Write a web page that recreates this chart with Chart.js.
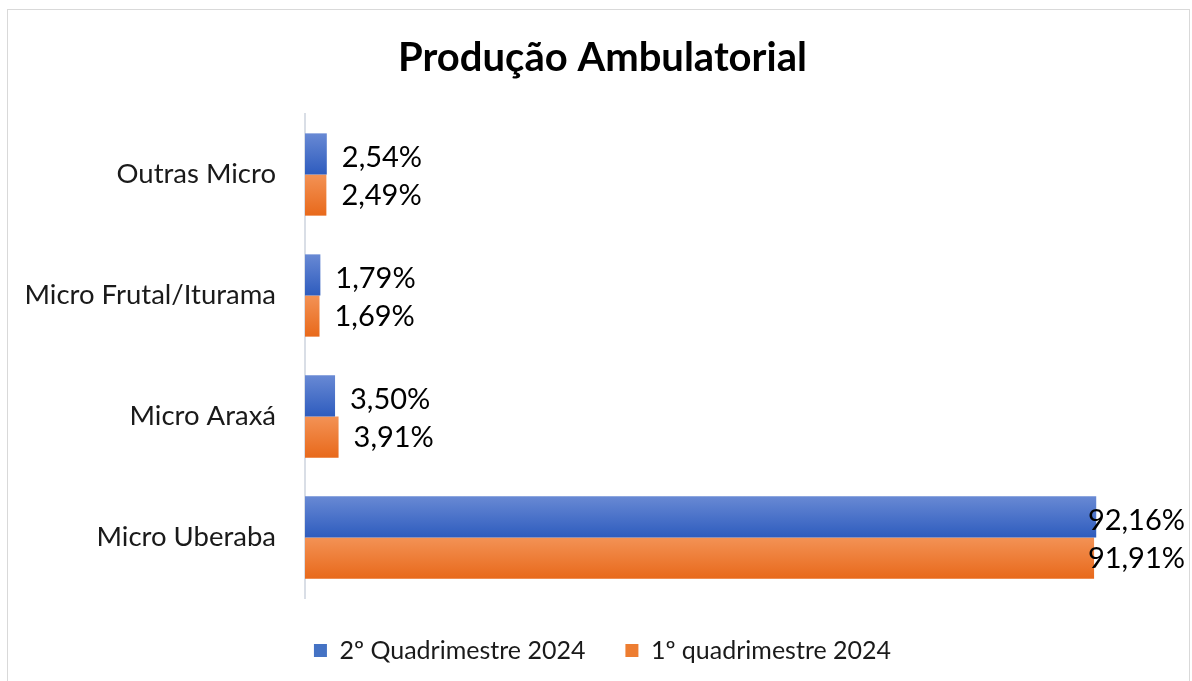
<!DOCTYPE html>
<html>
<head>
<meta charset="utf-8">
<script src="https://cdn.jsdelivr.net/npm/chart.js@4.4.1/dist/chart.umd.min.js"></script>
<style>
  html, body { margin: 0; padding: 0; background: #fff; }
  #wrap { position: relative; width: 1192px; height: 681px; overflow: hidden; }
  #frame { position: absolute; left: 7px; top: 9px; width: 1183px; height: 700px;
           border: 1px solid #d9d9d9; box-sizing: border-box; }
  #myBar { position: absolute; left: 0; top: 0; }
</style>
</head>
<body>
<div id="wrap">
  <div id="frame"></div>
  <canvas id="myBar" width="1192" height="681"></canvas>
</div>
<script>
// dados
var categorias = ["Outras Micro", "Micro Frutal/Iturama", "Micro Araxá", "Micro Uberaba"];
var segundoQuad = [2.54, 1.79, 3.50, 92.16];
var primeiroQuad = [2.49, 1.69, 3.91, 91.91];
var series = ["2º Quadrimestre 2024", "1º quadrimestre 2024"];

var fonte = "Lato, 'Open Sans', sans-serif";
var gradientes = [
    ["#6889d4", "#2e5cbe"],
    ["#f39255", "#e8691b"]
];

// degrade em cada barra
const gradPlugin = {
    id: "gradPlugin",
    beforeDatasetsDraw(chart){
        const ctx = chart.ctx;
        chart.data.datasets.forEach((ds, i) => {
            const meta = chart.getDatasetMeta(i);
            meta.data.forEach(el => {
                const top = el.y - el.height/2;
                const bottom = el.y + el.height/2;
                const g = ctx.createLinearGradient(0, top, 0, bottom);
                g.addColorStop(0, gradientes[i][0]);
                g.addColorStop(1, gradientes[i][1]);
                el.options = Object.assign({}, el.options, {backgroundColor: g});
            });
        });
    }
};

// rotulos de valor
const rotuloPlugin = {
    id: "rotuloPlugin",
    afterDatasetsDraw(chart){
        const ctx = chart.ctx;
        ctx.save();
        ctx.font = "29px " + fonte;
        ctx.fillStyle = "#000";
        ctx.textBaseline = "middle";
        ctx.textAlign = "left";
        chart.data.datasets.forEach((ds, i) => {
            const meta = chart.getDatasetMeta(i);
            meta.data.forEach((el, j) => {
                const txt = ds.data[j].toFixed(2).replace(".", ",") + "%";
                const w = ctx.measureText(txt).width;
                let x = el.x + 15;
                if (x + w > chart.width - 7) x = chart.width - 7 - w;
                ctx.fillText(txt, x, el.y + (i == 0 ? 4 : 1));
            });
        });
        ctx.restore();
    }
};

const data = {
    labels: categorias,
    datasets: [
    {
        label: series[0],
        backgroundColor: "#4472c4",
        data: segundoQuad
    },
    {
        label: series[1],
        backgroundColor: "#ed7d31",
        data: primeiroQuad
    }]
};

const config = {
    type: "bar",
    data: data,
    plugins: [gradPlugin, rotuloPlugin],
    options: {
        indexAxis: "y",
        responsive: false,
        animation: false,
        categoryPercentage: 0.68,
        barPercentage: 1,
        layout: {
            padding: { left: 20, right: 7, top: 0, bottom: 8 }
        },
        plugins: {
            title: {
                display: true,
                text: "Produção Ambulatorial",
                color: "#000",
                font: { family: fonte, size: 40, weight: "bold" },
                padding: { top: 34, bottom: 32 }
            },
            legend: {
                position: "bottom",
                labels: {
                    color: "#1a1a1a",
                    font: { family: fonte, size: 25 },
                    boxWidth: 13,
                    boxHeight: 13,
                    padding: 40
                }
            },
            tooltip: { enabled: false }
        },
        scales: {
            x: {
                display: false,
                min: 0,
                max: 102.5
            },
            y: {
                afterFit: s => { s.width = 285; },
                grid: { display: false, drawTicks: false },
                border: { display: true, color: "#d9dee6", width: 2 },
                ticks: {
                    color: "#1a1a1a",
                    padding: 29,
                    font: { family: fonte, size: 27.5 }
                }
            }
        }
    }
};

let mychart = new Chart(document.getElementById("myBar").getContext("2d"), config);
</script>
</body>
</html>
